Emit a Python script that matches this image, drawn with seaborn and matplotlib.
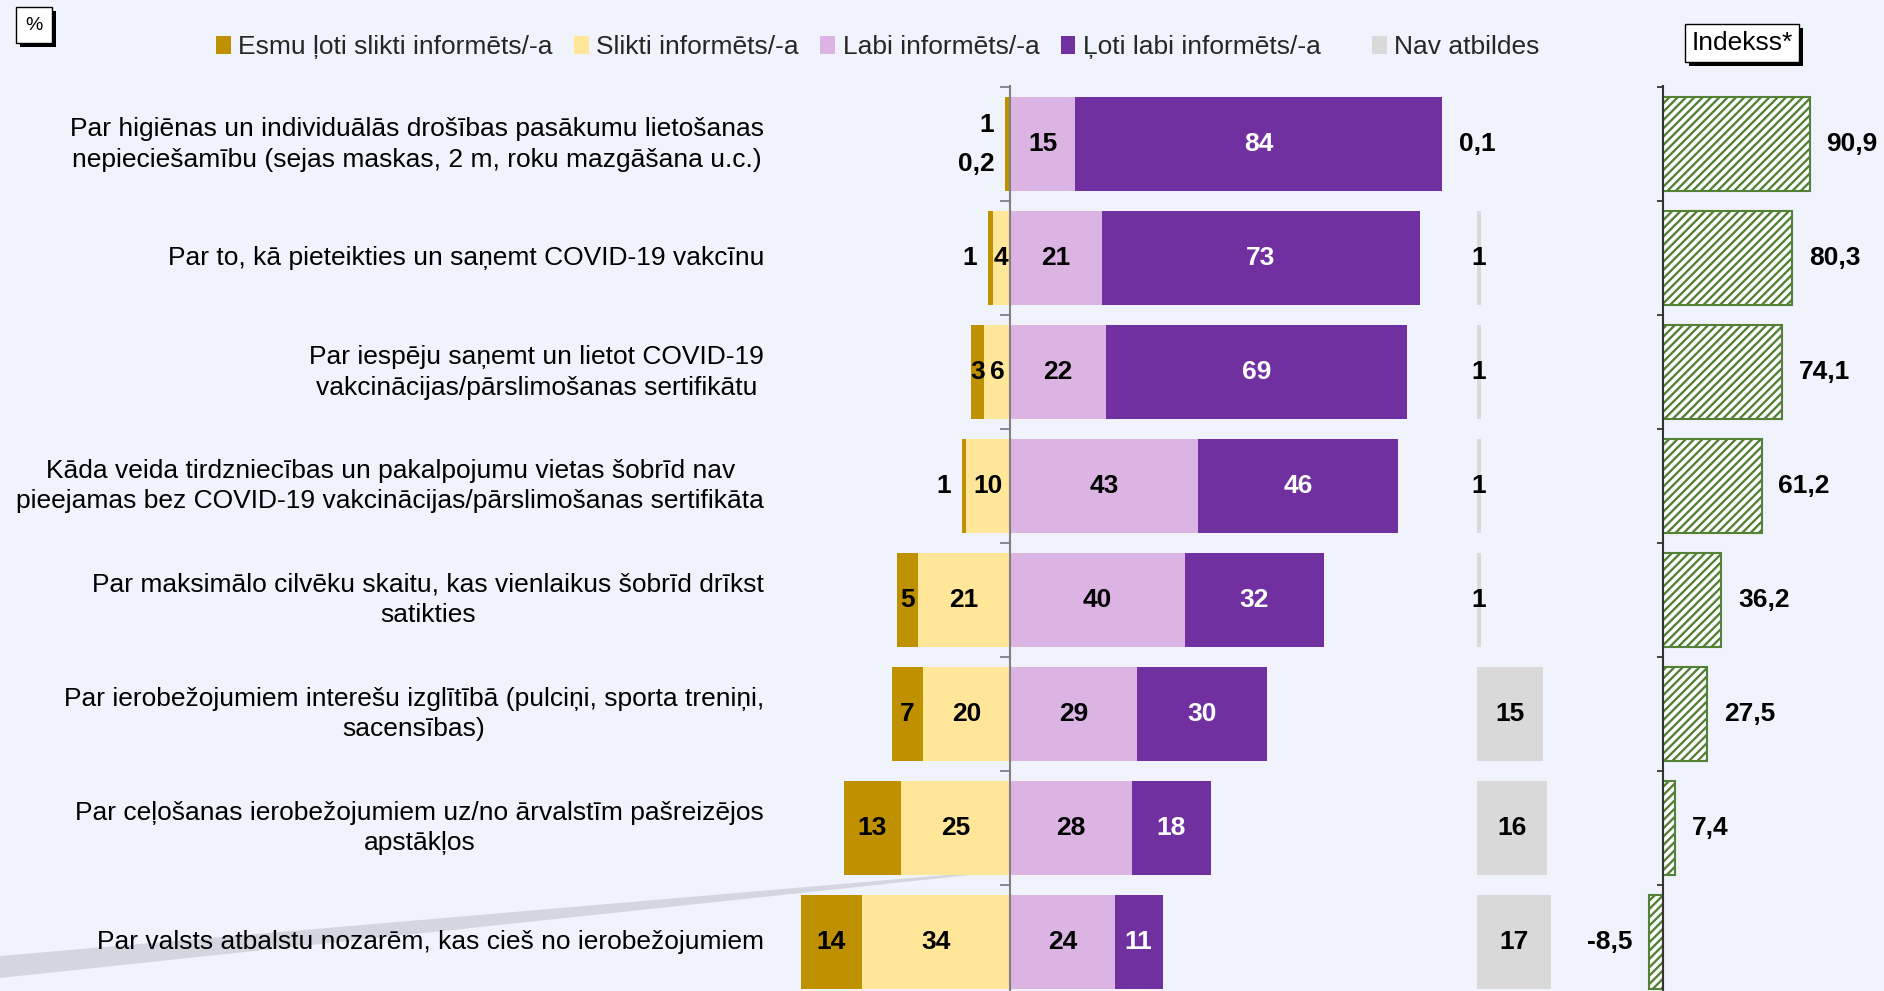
import numpy as np
import pandas as pd
import seaborn as sns
import matplotlib.pyplot as plt
from matplotlib.patches import Patch, Polygon, Rectangle

# dati
categories = [
    'Par higiēnas un individuālās drošības pasākumu lietošanas\nnepieciešamību (sejas maskas, 2 m, roku mazgāšana u.c.)',
    'Par to, kā pieteikties un saņemt COVID-19 vakcīnu',
    'Par iespēju saņemt un lietot COVID-19\nvakcinācijas/pārslimošanas sertifikātu',
    'Kāda veida tirdzniecības un pakalpojumu vietas šobrīd nav\npieejamas bez COVID-19 vakcinācijas/pārslimošanas sertifikāta',
    'Par maksimālo cilvēku skaitu, kas vienlaikus šobrīd drīkst\nsatikties',
    'Par ierobežojumiem interešu izglītībā (pulciņi, sporta treniņi,\nsacensības)',
    'Par ceļošanas ierobežojumiem uz/no ārvalstīm pašreizējos\napstākļos',
    'Par valsts atbalstu nozarēm, kas cieš no ierobežojumiem',
]
esmu = [1, 1, 3, 1, 5, 7, 13, 14]
slikti = [0.2, 4, 6, 10, 21, 20, 25, 34]
labi = [15, 21, 22, 43, 40, 29, 28, 24]
loti = [84, 73, 69, 46, 32, 30, 18, 11]
nav = [0.1, 1, 1, 1, 1, 15, 16, 17]
indekss = [90.9, 80.3, 74.1, 61.2, 36.2, 27.5, 7.4, -8.5]

series_names = ['Esmu ļoti slikti informēts/-a', 'Slikti informēts/-a',
                'Labi informēts/-a', 'Ļoti labi informēts/-a']
c_esmu, c_slikti, c_labi, c_loti = '#BF9000', '#FFE699', '#DCB4E4', '#7030A0'
c_nav, c_green = '#D9D9D9', '#538135'
bg = '#F0F2FC'

df = pd.DataFrame({'cat': categories, 'esmu': esmu, 'slikti': slikti,
                   'labi': labi, 'loti': loti, 'nav': nav, 'indekss': indekss})
df['neg_total'] = -(df['esmu'] + df['slikti'])
df['neg_slikti'] = -df['slikti']
df['pos_total'] = df['labi'] + df['loti']

sns.set_theme(style='white')
plt.rcParams['font.family'] = ['Liberation Sans', 'DejaVu Sans']
plt.rcParams['hatch.linewidth'] = 1.7
plt.rcParams['hatch.color'] = c_green

W, H = 1884, 991
fig = plt.figure(figsize=(W / 100, H / 100), dpi=100, facecolor=bg)

top = 1 - 86 / H
ax = fig.add_axes([780 / W, 0, 690 / W, top])
ax_nav = fig.add_axes([1470 / W, 0, 170 / W, top])
ax_idx = fig.add_axes([1640 / W, 0, 244 / W, top])
for a in (ax, ax_nav, ax_idx):
    a.set_facecolor('none')

bw = 0.82
FS = 19
VS = 19


def fmt(v):
    return f'{v:g}'.replace('.', ',')


# galvenie stabiņi (sakrauti, pārklājot kumulatīvās summas)
for col, c in [('pos_total', c_loti), ('labi', c_labi),
               ('neg_total', c_esmu), ('neg_slikti', c_slikti)]:
    sns.barplot(data=df, x=col, y='cat', color=c, saturation=1, width=bw,
                errorbar=None, orient='h', linewidth=0, ax=ax)

sns.barplot(data=df, x='nav', y='cat', color=c_nav, saturation=1, width=bw,
            errorbar=None, orient='h', linewidth=0, ax=ax_nav)
sns.barplot(data=df, x='indekss', y='cat', color='white', saturation=1, width=bw,
            errorbar=None, orient='h', edgecolor=c_green, linewidth=1.5,
            hatch='////', ax=ax_idx)

ylim = (7.43, -0.51)
ax.set_xlim(-52.7, 105.4)
ax_nav.set_xlim(-1.6, 37.3)
ax_idx.set_xlim(-14.3, 137.1)

for a in (ax, ax_nav, ax_idx):
    a.set_ylim(*ylim)
    a.set_xlabel('')
    a.set_ylabel('')
    a.set_xticks([])
    a.set_yticks([])
    for s in ['top', 'right', 'bottom']:
        a.spines[s].set_visible(False)

ax_nav.spines['left'].set_visible(False)
bounds = np.arange(-0.5, 7.5, 1)
for a, col, tl in [(ax, '#808080', 7), (ax_idx, '#333333', 4)]:
    a.spines['left'].set_position(('data', 0))
    a.spines['left'].set_color(col)
    a.spines['left'].set_linewidth(1.5)
    a.set_yticks(bounds, minor=True)
    a.tick_params(axis='y', which='minor', left=True, length=tl, width=1.3,
                  color=col, direction='out', labelleft=False)

# kategoriju nosaukumi
for i, cat in enumerate(categories):
    ax.text(-0.023, i, cat, transform=ax.get_yaxis_transform(), ha='right',
            va='center', multialignment='center', fontsize=FS, color='black',
            linespacing=1.36)

# vērtību etiķetes
lab = dict(ha='center', va='center', fontsize=VS, fontweight='bold')
for i in range(len(categories)):
    ax.text(labi[i] / 2, i, fmt(labi[i]), color='black', **lab)
    ax.text(labi[i] + loti[i] / 2, i, fmt(loti[i]), color='white', **lab)
    tot = esmu[i] + slikti[i]
    if esmu[i] < 2 and slikti[i] < 2:
        x = -tot - 2.4
        ax.text(x, i - 0.17, fmt(esmu[i]), color='black',
                **{**lab, 'ha': 'right'})
        ax.text(x, i + 0.17, fmt(slikti[i]), color='black',
                **{**lab, 'ha': 'right'})
    else:
        if esmu[i] < 2:
            ax.text(-tot - 2.6, i, fmt(esmu[i]), color='black',
                    **{**lab, 'ha': 'right'})
        else:
            ax.text(-slikti[i] - esmu[i] / 2, i, fmt(esmu[i]), color='black', **lab)
        ax.text(-slikti[i] / 2, i, fmt(slikti[i]), color='black', **lab)
    ax_nav.text(nav[i] / 2, i, fmt(nav[i]), color='black', **lab)
    v = indekss[i]
    ax_idx.annotate(fmt(v), (v, i), xytext=(12 if v >= 0 else -12, 0),
                    textcoords='offset points',
                    ha='left' if v >= 0 else 'right', va='center',
                    fontsize=VS, fontweight='bold', color='black',
                    annotation_clip=False)

# leģendas
handles = [Patch(facecolor=c, edgecolor='none') for c in (c_esmu, c_slikti, c_labi, c_loti)]
ly = 1 - 47 / H
fig.legend(handles, series_names, loc='center left', bbox_to_anchor=(216 / W, ly),
           ncol=4, frameon=False, fontsize=FS, handlelength=0.55, handleheight=0.7,
           handletextpad=0.3, columnspacing=0.8, borderaxespad=0, borderpad=0)
fig.legend([Patch(facecolor=c_nav, edgecolor='none')], ['Nav atbildes'], loc='center left',
           bbox_to_anchor=(1372 / W, ly), frameon=False, fontsize=FS, handlelength=0.55,
           handleheight=0.7, handletextpad=0.3, borderaxespad=0, borderpad=0)


# kastītes ar ēnu
def shadow_box(x, y, s, fs, pad):
    t = fig.text(x, y, s, ha='center', va='center', fontsize=fs, color='black', zorder=3,
                 bbox=dict(boxstyle=f'square,pad={pad}', fc='white', ec='black', lw=1))
    fig.canvas.draw()
    bb = t.get_bbox_patch().get_window_extent()
    fig.patches.append(Rectangle((bb.x0 + 4, bb.y0 - 4), bb.width, bb.height,
                                 transform=None, facecolor='black', edgecolor='none',
                                 zorder=2))


shadow_box(34 / W, 1 - 25 / H, '%', 14, 0.5)
shadow_box(1742 / W, 1 - 43 / H, 'Indekss*', FS, 0.25)

# dekoratīvā slīpā josla
pts = np.array([(0, 956), (970, 873), (970, 875), (0, 978)], dtype=float)
pts[:, 0] /= W
pts[:, 1] = 1 - pts[:, 1] / H
fig.patches.append(Polygon(pts, closed=True, transform=fig.transFigure,
                           facecolor='#D3D6DE', edgecolor='none', zorder=-1))

fig.savefig('out.png', dpi=100, facecolor=bg)
